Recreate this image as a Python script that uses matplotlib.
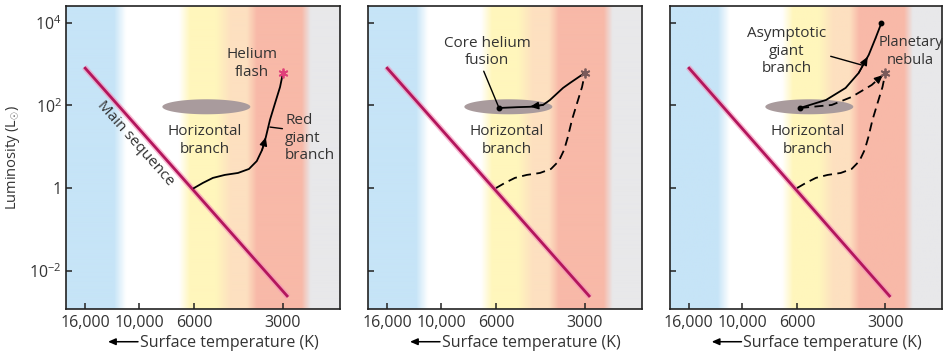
import numpy as np
import matplotlib
matplotlib.use('Agg')
import matplotlib.pyplot as plt
from matplotlib.path import Path
from matplotlib.ticker import NullLocator
from matplotlib.colors import to_rgb

# ---------------- data ----------------
temp_ticks = [16000, 10000, 6000, 3000]
temp_tick_labels = ['16,000', '10,000', '6000', '3000']
lum_ticks = [1e4, 1e2, 1, 1e-2]
lum_tick_labels = ['$10^4$', '$10^2$', '1', '$10^{-2}$']

# main sequence
ms_T = [16100, 2885]
ms_L = [850, 0.0023]

# red giant branch (main sequence turn-off -> helium flash)
rgb_T = [6000, 5600, 5180, 4720, 4260, 3910, 3680, 3530, 3430, 3320, 3190, 3070, 3000]
rgb_L = [1.0, 1.33, 1.76, 2.08, 2.32, 2.9, 4.5, 8.4, 17, 45, 115, 280, 620]

# helium flash point
flash_T = [3000]
flash_L = [620]

# horizontal branch region centre and star position on it
hb_T = [5450]
hb_L = [93]
hbstar_T = [5860]
hbstar_L = [87]

# helium flash -> horizontal branch (core helium fusion)
he_T = [3000, 3370, 3560, 3940, 4160, 4600, 5090, 5860]
he_L = [620, 352, 266, 136, 103, 93, 91, 87]

# asymptotic giant branch
agb_T = [5860, 4780, 4100, 3700, 3420, 3240, 3095]
agb_L = [87, 136, 266, 614, 1675, 4310, 10000]

# horizontal branch -> planetary nebula (dashed)
pn_T = [5860, 4570, 3910, 3340, 3000]
pn_L = [87, 103, 161, 314, 620]

# ---------------- axis scale (schematic temperature axis) ----------------
scale_knots_T = np.array([1000, 3000, 6000, 10000, 16000, 30000], float)
scale_knots_pos = np.array([-358.0, -217, -128, -73, -19, 53.2])
_xk = np.log10(scale_knots_T)


def t_forward(t):
    t = np.asarray(t, float)
    with np.errstate(divide='ignore', invalid='ignore'):
        x = np.log10(np.where(t > 0, t, np.nan))
    return np.interp(x, _xk, scale_knots_pos)


def t_inverse(u):
    u = np.asarray(u, float)
    return 10 ** np.interp(u, scale_knots_pos, _xk)


# ---------------- style ----------------
plt.rcParams['font.family'] = ['Open Sans', 'DejaVu Sans']
plt.rcParams['mathtext.fontset'] = 'custom'
plt.rcParams['mathtext.rm'] = 'Open Sans'
plt.rcParams['mathtext.it'] = 'Open Sans:italic'
plt.rcParams['mathtext.bf'] = 'Open Sans:bold'
FS = 11
FS_TICK = 11.5
TXT = '#333333'
MS_COL = '#b3165c'
LS = 1.25

W, H = 943, 355
fig = plt.figure(figsize=(W / 100, H / 100), dpi=100)
lefts = [66, 368, 670]
widths = [274, 274, 272]
top_px, bot_px = 6, 309

band_pos = [0, 48, 60, 113, 124, 150, 165, 181, 191, 236, 245, 274]
band_col = ['#c6e4f7', '#c6e4f7', '#ffffff', '#ffffff', '#fff6bc', '#fff6bc',
            '#fde0c0', '#fde0c0', '#f8b9a8', '#f8b9a8', '#e8e8ea', '#e8e8ea']
xs = np.linspace(0, 274, 548)
band_rgb = np.array([to_rgb(c) for c in band_col])
grad = np.stack([np.interp(xs, band_pos, band_rgb[:, k]) for k in range(3)], axis=-1)[None, :, :]

theta = np.linspace(0, 2 * np.pi, 120)
ell_path = Path(np.column_stack([np.cos(theta), 15 / 88 * np.sin(theta)]), closed=True)

axes = []
for i, (lp, wp) in enumerate(zip(lefts, widths)):
    rect = [lp / W, (H - bot_px) / H, wp / W, (bot_px - top_px) / H]
    bg = fig.add_axes(rect, zorder=0)
    bg.imshow(grad, aspect='auto', extent=(0, 1, 0, 1), interpolation='bilinear')
    bg.set_axis_off()
    ax = fig.add_axes(rect, zorder=1)
    ax.patch.set_alpha(0)
    ax.set_xscale('function', functions=(t_forward, t_inverse))
    ax.set_yscale('log')
    ax.set_xlim(float(t_inverse(0)), float(t_inverse(-274)))
    ax.set_ylim(10 ** -2.93, 10 ** 4.41)
    ax.set_xticks(temp_ticks)
    ax.set_xticklabels(temp_tick_labels)
    ax.set_yticks(lum_ticks)
    ax.set_yticklabels(lum_tick_labels if i == 0 else [''] * 4)
    ax.xaxis.set_minor_locator(NullLocator())
    ax.yaxis.set_minor_locator(NullLocator())
    ax.tick_params(direction='in', length=4.5, width=1.1, colors='#222222',
                   labelcolor=TXT, labelsize=FS_TICK)
    ax.tick_params(axis='x', pad=4)
    ax.tick_params(axis='y', pad=3)
    for s in ax.spines.values():
        s.set_linewidth(1.2)
        s.set_color('#222222')
    # x-axis title with a leftward arrow
    ax.text(74 / 274, -0.112, 'Surface temperature (K)', transform=ax.transAxes,
            ha='left', va='center', fontsize=FS_TICK, color=TXT)
    ax.annotate('', xy=(42 / 274, -0.108), xycoords='axes fraction',
                xytext=(72 / 274, -0.108), textcoords='axes fraction',
                arrowprops=dict(arrowstyle='-|>,head_length=0.5,head_width=0.22', color='k',
                                lw=1.1, shrinkA=0, shrinkB=0, mutation_scale=9))

    # main sequence
    ax.plot(ms_T, ms_L, color='#f590b8', lw=4.2, alpha=0.6, solid_capstyle='butt', zorder=3)
    ax.plot(ms_T, ms_L, color=MS_COL, lw=2.0, solid_capstyle='butt', zorder=4)
    # horizontal branch blob
    ax.scatter(hb_T, hb_L, marker=ell_path, s=(88 * 0.72) ** 2, c='#a99b9d',
               edgecolors='none', zorder=2)
    ax.text(0.505, 0.555, 'Horizontal\nbranch', transform=ax.transAxes, ha='center',
            va='center', fontsize=FS, color=TXT, linespacing=LS, zorder=6)
    axes.append(ax)

arrow_kw = dict(arrowstyle='-|>,head_length=0.55,head_width=0.25', color='k',
                lw=1.0, shrinkA=0, shrinkB=0, mutation_scale=9)

# ---------- panel 1 ----------
ax = axes[0]
ax.plot(rgb_T, rgb_L, color='k', lw=1.3, zorder=5)
ax.annotate('', xy=(rgb_T[8], rgb_L[8]), xytext=(rgb_T[7], rgb_L[7]), arrowprops=arrow_kw, zorder=5)
ax.plot(flash_T, flash_L, marker=(6, 2, 0), ms=7, mec='#e0407a', mew=1.3, ls='none', zorder=6)
ax.text(0.679, 0.809, 'Helium\nflash', transform=ax.transAxes, ha='center', va='center',
        fontsize=FS, color=TXT, linespacing=LS)
ax.annotate('Red\ngiant\nbranch', xy=(3320, 30), xycoords='data',
            xytext=(0.80, 0.564), textcoords='axes fraction', ha='left', va='center',
            fontsize=FS, color=TXT, linespacing=LS,
            arrowprops=dict(arrowstyle='-', color='k', lw=1.0, shrinkA=0, shrinkB=0,
                            relpos=(0, 0.68)))
ax.text(0.252, 0.548, 'Main sequence', transform=ax.transAxes, ha='center', va='center',
        rotation=-48.4, rotation_mode='anchor', fontsize=FS, color=TXT)
fig.text(13 / W, 1 - 157.5 / H, 'Luminosity (L$_{\\odot}$)', rotation=90, ha='center',
         va='center', fontsize=10.5, color=TXT)

# ---------- panel 2 ----------
ax = axes[1]
ax.plot(rgb_T, rgb_L, color='k', lw=1.3, dashes=(5, 3), zorder=5)
ax.plot(he_T, he_L, color='k', lw=1.3, zorder=5)
ax.annotate('', xy=(he_T[5], he_L[5]), xytext=(he_T[4], he_L[4]), arrowprops=arrow_kw, zorder=5)
ax.plot(flash_T, flash_L, marker=(6, 2, 0), ms=7, mec='#7a5a5a', mew=1.3, ls='none', zorder=6)
ax.plot(hbstar_T, hbstar_L, 'o', color='k', ms=3.2, zorder=6)
ax.annotate('Core helium\nfusion', xy=(hbstar_T[0], hbstar_L[0]), xycoords='data',
            xytext=(0.434, 0.848), textcoords='axes fraction', ha='center', va='center',
            fontsize=FS, color=TXT, linespacing=LS,
            arrowprops=dict(arrowstyle='-', color='k', lw=1.0, shrinkA=0, shrinkB=0,
                            relpos=(0.45, 0)))

# ---------- panel 3 ----------
ax = axes[2]
ax.plot(rgb_T, rgb_L, color='k', lw=1.3, dashes=(5, 3), zorder=5)
ax.plot(pn_T, pn_L, color='k', lw=1.3, dashes=(5, 3), zorder=5)
ax.annotate('', xy=(pn_T[4], pn_L[4]), xytext=(pn_T[3], pn_L[3]),
            arrowprops=dict(arrow_kw, shrinkA=9, shrinkB=2.5), zorder=5)
ax.plot(agb_T, agb_L, color='k', lw=1.3, zorder=5)
ax.annotate('', xy=(agb_T[4], agb_L[4]), xytext=(agb_T[3], agb_L[3]),
            arrowprops=dict(arrow_kw, shrinkB=1.5), zorder=5)
ax.plot(flash_T, flash_L, marker=(6, 2, 0), ms=7, mec='#7a5a5a', mew=1.3, ls='none', zorder=6)
ax.plot(hbstar_T, hbstar_L, 'o', color='k', ms=3.2, zorder=6)
ax.plot(agb_T[-1:], agb_L[-1:], 'o', color='k', ms=3.2, zorder=6)
ax.annotate('Asymptotic\ngiant\nbranch', xy=(3615, 957), xycoords='data',
            xytext=(0.43, 0.851), textcoords='axes fraction', ha='center', va='center',
            fontsize=FS, color=TXT, linespacing=LS,
            arrowprops=dict(arrowstyle='-', color='k', lw=1.0, shrinkA=1, shrinkB=0,
                            relpos=(0.82, 0.5)))
ax.annotate('Planetary\nnebula', xy=(agb_T[5], agb_L[5]), xycoords='data',
            xytext=(0.885, 0.851), textcoords='axes fraction', ha='center', va='center',
            fontsize=FS - 0.5, color=TXT, linespacing=LS,
            arrowprops=dict(arrowstyle='-', color='k', lw=1.0, shrinkA=0, shrinkB=0,
                            relpos=(0.0, 0.95)))

fig.savefig('out.png', dpi=100)
